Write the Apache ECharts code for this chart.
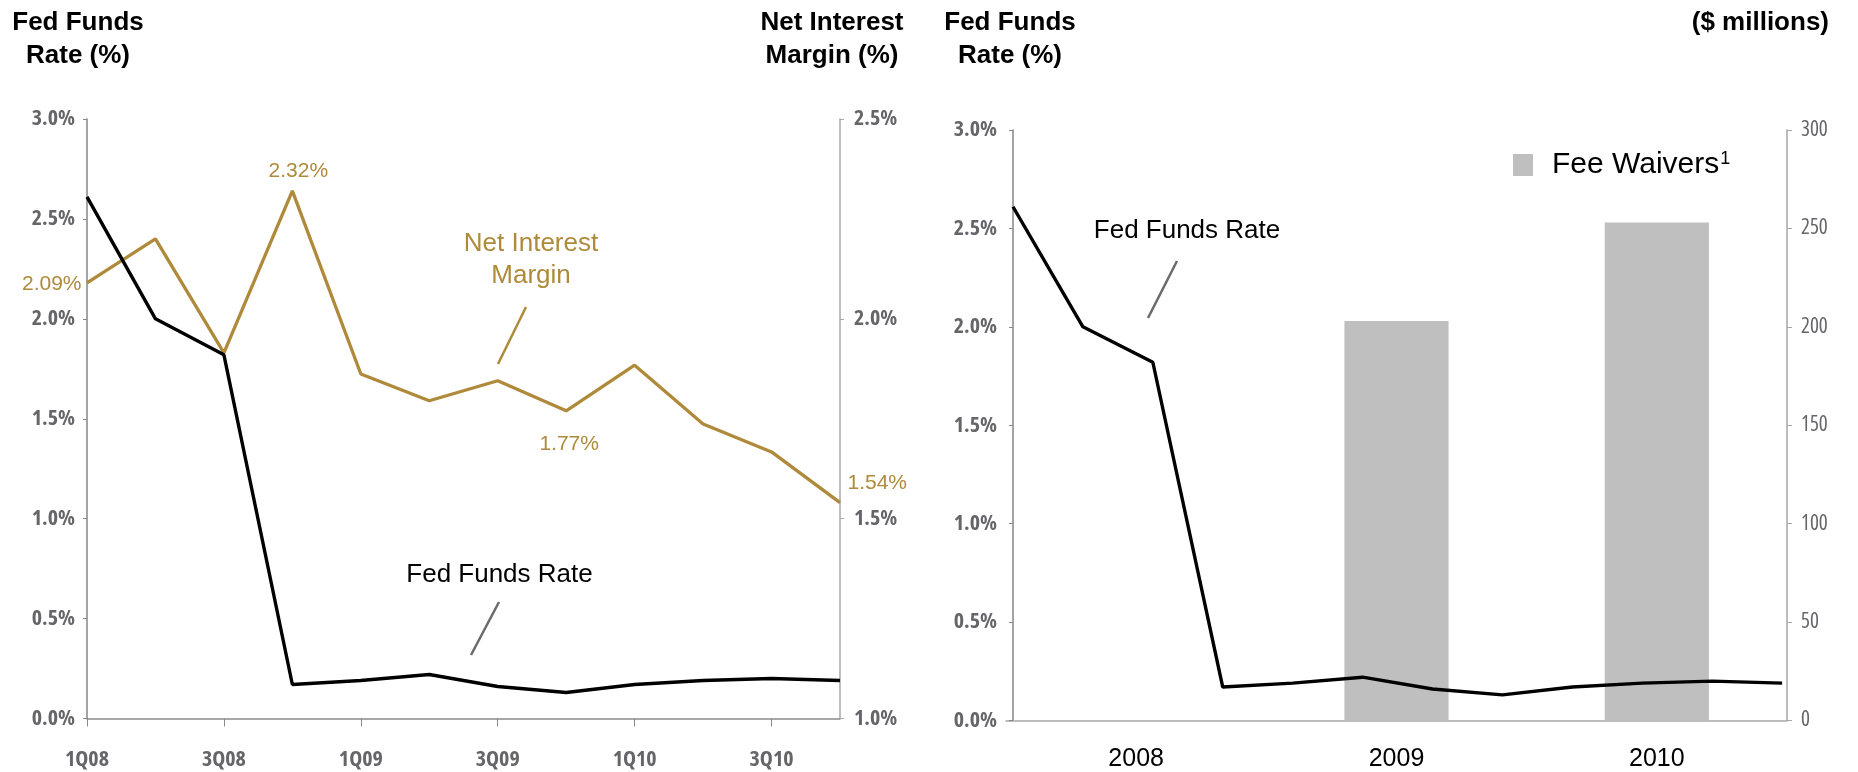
<!DOCTYPE html>
<html>
<head>
<meta charset="utf-8">
<title>Fed Funds Rate, Net Interest Margin and Fee Waivers</title>
<script src="https://cdn.jsdelivr.net/npm/echarts@6/dist/echarts.min.js"></script>
<style>
  html, body { margin: 0; padding: 0; background: #ffffff; }
  #chart { width: 1858px; height: 772px; }
</style>
</head>
<body>
<div id="chart"></div>
<script>
// ---- data ----
const quarters = ['1Q08', '2Q08', '3Q08', '4Q08', '1Q09', '2Q09', '3Q09', '4Q09', '1Q10', '2Q10', '3Q10', '4Q10'];
const fedFundsRate = [2.61, 2.00, 1.82, 0.17, 0.19, 0.22, 0.16, 0.13, 0.17, 0.19, 0.20, 0.19];
const netInterestMargin = [2.09, 2.20, 1.915, 2.32, 1.862, 1.795, 1.845, 1.77, 1.884, 1.737, 1.667, 1.54];
const years = ['2008', '2009', '2010'];
const feeWaivers = [null, 203, 253];
const rateTicks = { min: 0, max: 3, step: 0.5 };
const nimTicks = { min: 1, max: 2.5, step: 0.5 };
const waiverTicks = { min: 0, max: 300, step: 50 };

// ---- styling ----
const GOLD = '#AE8A3A';
const AXIS_TEXT = '#65656a';
const ARIAL = "'Liberation Sans', Arial, 'DejaVu Sans', sans-serif";

// Pick the narrowest available condensed face for the axis numbers:
// measure a sample string and keep the candidate closest to the width
// an Arial Narrow face would give.
function pickNarrow(weight, sample, size, target) {
  const candidates = [
    { family: "'Liberation Sans Narrow'", stretch: '' },
    { family: "'Arial Narrow'", stretch: '' },
    { family: "'Noto Sans'", stretch: 'extra-condensed' },
    { family: "'Noto Sans'", stretch: 'condensed' },
    { family: "'Noto Sans ExtraCondensed'", stretch: '' },
    { family: "'Noto Sans Condensed'", stretch: '' },
    { family: "'Open Sans'", stretch: 'condensed' },
    { family: "'DejaVu Sans Condensed'", stretch: '' },
    { family: "'Liberation Sans'", stretch: '' }
  ];
  const ctx = document.createElement('canvas').getContext('2d');
  let best = candidates[candidates.length - 1], bestErr = Infinity;
  candidates.forEach(c => {
    ctx.font = [c.stretch || 'normal', weight, size + 'px', c.family].join(' ');
    const w = ctx.measureText(sample).width;
    const err = Math.abs(w - target);
    if (err < bestErr) { bestErr = err; best = c; }
  });
  return best;
}
const narrowBold = pickNarrow('bold', '2.5%', 22, 41);
const narrowRegular = pickNarrow('normal', '300', 21, 29);

// which NIM points carry a value label, and where it sits
const nimLabelPlacement = {
  0: { position: 'left', distance: 5, offset: [0, 1] },
  3: { position: 'top', distance: 5, offset: [6, -4] },
  7: { position: 'bottom', distance: 5, offset: [3, 17] },
  11: { position: 'right', distance: 5, offset: [2, -19] }
};

const pct1 = v => v.toFixed(1) + '%';

const nimData = netInterestMargin.map((v, i) => {
  const p = nimLabelPlacement[i];
  if (!p) return v;
  return {
    value: v,
    label: Object.assign({
      show: true,
      formatter: o => o.value.toFixed(2) + '%',
      color: GOLD,
      fontFamily: ARIAL,
      fontSize: 21
    }, p)
  };
});

const chart = echarts.init(document.getElementById('chart'), null, { renderer: 'canvas' });

const boldTick = {
  fontFamily: narrowBold.family, fontStyle: narrowBold.stretch || 'normal',
  fontWeight: 'bold', fontSize: 22, color: AXIS_TEXT
};
const regularTick = {
  fontFamily: narrowRegular.family, fontStyle: narrowRegular.stretch || 'normal',
  fontWeight: 'normal', fontSize: 21, color: AXIS_TEXT
};
const titleFont = "bold 26px " + ARIAL;

const option = {
  backgroundColor: '#ffffff',
  animation: false,
  grid: [
    { left: 87, top: 119, width: 753, height: 599.5 },
    { left: 1006, top: 130, width: 781, height: 590.5 }
  ],
  legend: {
    data: ['Fee Waivers'],
    left: 1513, top: 150, padding: 0,
    icon: 'rect', itemWidth: 20, itemHeight: 22,
    formatter: name => name + '{sup|1}',
    textStyle: {
      fontFamily: ARIAL, fontSize: 30, color: '#000', lineHeight: 30,
      padding: [0, 0, 0, 14],
      rich: { sup: { fontFamily: ARIAL, fontSize: 18, color: '#000', padding: [0, 0, 12, 1] } }
    }
  },
  xAxis: [
    {
      type: 'category', gridIndex: 0, data: quarters, boundaryGap: false,
      axisLine: { lineStyle: { color: '#8a8a8a', width: 1.5 } },
      axisTick: { show: true, interval: 1, length: 8, lineStyle: { color: '#8a8a8a' } },
      axisLabel: Object.assign({ interval: 1, margin: 30 }, boldTick),
      splitLine: { show: false }
    },
    {
      type: 'category', gridIndex: 1, data: years, boundaryGap: true,
      axisLine: { lineStyle: { color: '#a6a6a6', width: 1.5 } },
      axisTick: { show: false },
      axisLabel: { margin: 26, fontFamily: ARIAL, fontSize: 25, color: '#000' },
      splitLine: { show: false }
    },
    {
      type: 'value', gridIndex: 1, min: -0.1, max: 11.07, show: false,
      splitLine: { show: false }
    }
  ],
  yAxis: [
    {
      type: 'value', gridIndex: 0, position: 'left',
      min: rateTicks.min, max: rateTicks.max, interval: rateTicks.step,
      axisLine: { show: true, lineStyle: { color: '#868686', width: 1.5 } },
      axisTick: { show: true, length: 4, lineStyle: { color: '#868686' } },
      axisLabel: Object.assign({ formatter: pct1, margin: 12 }, boldTick),
      splitLine: { show: false }
    },
    {
      type: 'value', gridIndex: 0, position: 'right',
      min: nimTicks.min, max: nimTicks.max, interval: nimTicks.step,
      axisLine: { show: true, lineStyle: { color: '#a8a8a8', width: 1.5 } },
      axisTick: { show: true, length: 4, lineStyle: { color: '#a8a8a8' } },
      axisLabel: Object.assign({ formatter: pct1, margin: 14 }, boldTick),
      splitLine: { show: false }
    },
    {
      type: 'value', gridIndex: 1, position: 'left',
      min: rateTicks.min, max: rateTicks.max, interval: rateTicks.step,
      axisLine: { show: true, lineStyle: { color: '#868686', width: 1.5 } },
      axisTick: { show: true, length: 4, lineStyle: { color: '#868686' } },
      axisLabel: Object.assign({ formatter: pct1, margin: 9 }, boldTick),
      splitLine: { show: false }
    },
    {
      type: 'value', gridIndex: 1, position: 'right',
      min: waiverTicks.min, max: waiverTicks.max, interval: waiverTicks.step,
      axisLine: { show: true, lineStyle: { color: '#a6a6a6', width: 1.5 } },
      axisTick: { show: true, length: 5, lineStyle: { color: '#a6a6a6' } },
      axisLabel: Object.assign({ margin: 14 }, regularTick),
      splitLine: { show: false }
    }
  ],
  series: [
    {
      name: 'Net Interest Margin', type: 'line', xAxisIndex: 0, yAxisIndex: 1,
      data: nimData, symbol: 'circle', symbolSize: 1, showSymbol: true, z: 2,
      itemStyle: { color: 'rgba(0,0,0,0)' },
      lineStyle: { color: GOLD, width: 3.3 }
    },
    {
      name: 'Fed Funds Rate', type: 'line', xAxisIndex: 0, yAxisIndex: 0,
      data: fedFundsRate, symbol: 'none', z: 3,
      lineStyle: { color: '#000', width: 3.4 }
    },
    {
      name: 'Fee Waivers', type: 'bar', xAxisIndex: 1, yAxisIndex: 3,
      data: feeWaivers, barWidth: '40%', z: 1,
      itemStyle: { color: '#bfbfbf' }
    },
    {
      name: 'Fed Funds Rate (2008-2010)', type: 'line', xAxisIndex: 2, yAxisIndex: 2,
      data: fedFundsRate.map((v, i) => [i, v]), symbol: 'none', z: 3,
      lineStyle: { color: '#000', width: 3.4 }
    }
  ],
  graphic: [
    // axis titles
    { type: 'text', x: 78, y: 6, style: { text: 'Fed Funds\nRate (%)', align: 'center', verticalAlign: 'top', font: titleFont, lineHeight: 33, fill: '#000' } },
    { type: 'text', x: 832, y: 6, style: { text: 'Net Interest\nMargin (%)', align: 'center', verticalAlign: 'top', font: titleFont, lineHeight: 33, fill: '#000' } },
    { type: 'text', x: 1010, y: 6, style: { text: 'Fed Funds\nRate (%)', align: 'center', verticalAlign: 'top', font: titleFont, lineHeight: 33, fill: '#000' } },
    { type: 'text', x: 1829, y: 6, style: { text: '($ millions)', align: 'right', verticalAlign: 'top', font: titleFont, lineHeight: 33, fill: '#000' } },
    // series callouts
    { type: 'text', x: 531, y: 260, style: { text: 'Net Interest\nMargin', align: 'center', verticalAlign: 'middle', font: "26px " + ARIAL, lineHeight: 32, fill: GOLD } },
    { type: 'line', shape: { x1: 526, y1: 307, x2: 498, y2: 364 }, style: { stroke: GOLD, lineWidth: 2.5 } },
    { type: 'text', x: 499.5, y: 575, style: { text: 'Fed Funds Rate', align: 'center', verticalAlign: 'middle', font: "26px " + ARIAL, fill: '#000' } },
    { type: 'line', shape: { x1: 499, y1: 602, x2: 471, y2: 655 }, style: { stroke: '#6b6b6b', lineWidth: 2.5 } },
    { type: 'text', x: 1187, y: 231, style: { text: 'Fed Funds Rate', align: 'center', verticalAlign: 'middle', font: "26px " + ARIAL, fill: '#000' } },
    { type: 'line', shape: { x1: 1177, y1: 261, x2: 1148, y2: 318 }, style: { stroke: '#6b6b6b', lineWidth: 2.5 } }
  ]
};

chart.setOption(option);
</script>
</body>
</html>
